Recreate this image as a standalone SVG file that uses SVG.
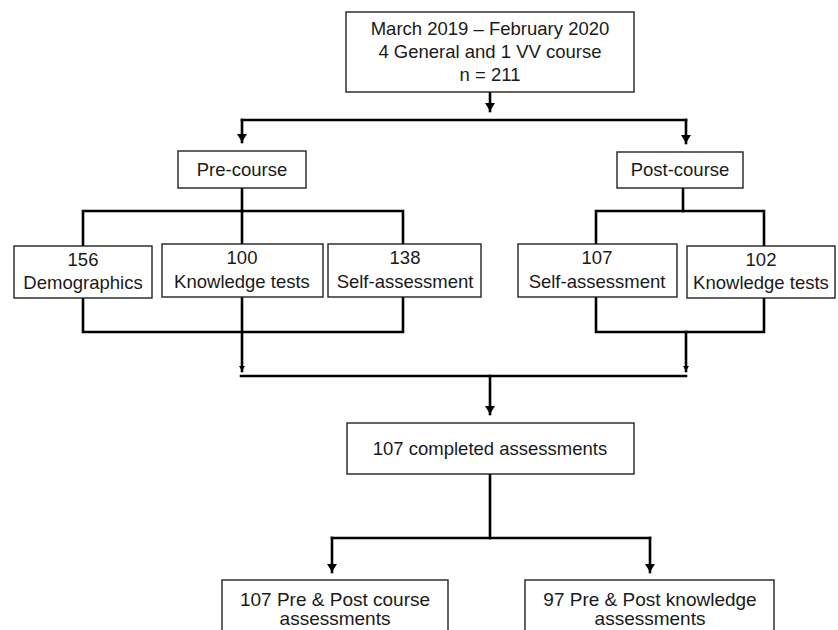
<svg xmlns="http://www.w3.org/2000/svg" width="838" height="630" viewBox="0 0 838 630">
<style>
.box{fill:#fff;stroke:#222;stroke-width:1.4}
.t{font-family:"Liberation Sans",Arial,sans-serif;font-size:18.5px;fill:#1a1a1a;text-anchor:middle}
.tb{font-family:"Liberation Sans",Arial,sans-serif;font-size:19px;fill:#1a1a1a;text-anchor:middle}
.c{fill:none;stroke:#000;stroke-width:2.6;stroke-linecap:square}
</style>
<defs>
<marker id="ah" markerUnits="userSpaceOnUse" markerWidth="12" markerHeight="12" viewBox="0 0 12 12" refX="11" refY="6" orient="auto">
<path d="M3,1 L11,6 L3,11 Z" fill="#000"/>
</marker>
<marker id="as" markerUnits="userSpaceOnUse" markerWidth="8" markerHeight="8" viewBox="0 0 8 8" refX="7" refY="4" orient="auto">
<path d="M2,1 L7,4 L2,7 Z" fill="#000"/>
</marker>
</defs>
<rect width="838" height="630" fill="#fff"/>
<g id="connectors">
<path class="c" d="M490,92 V111" marker-end="url(#ah)"/>
<path class="c" d="M242,120 H686"/>
<path class="c" d="M242,120 V142" marker-end="url(#ah)"/>
<path class="c" d="M686,120 V143" marker-end="url(#ah)"/>
<path class="c" d="M242,188 V211"/>
<path class="c" d="M83,246 V211 H403 V244"/>
<path class="c" d="M242,211 V244"/>
<path class="c" d="M683,188 V211"/>
<path class="c" d="M596,244 V211 H764 V246"/>
<path class="c" d="M83,298 V332 H403 V297"/>
<path class="c" d="M242,297 V371" marker-end="url(#as)"/>
<path class="c" d="M596,297 V332 H764 V298"/>
<path class="c" d="M686,332 V371" marker-end="url(#as)"/>
<path class="c" d="M241,376 H686"/>
<path class="c" d="M490,376 V414" marker-end="url(#ah)"/>
<path class="c" d="M490,474 V538"/>
<path class="c" d="M332,538 H650"/>
<path class="c" d="M332,538 V572" marker-end="url(#ah)"/>
<path class="c" d="M650,538 V572" marker-end="url(#ah)"/>
</g>
<g id="n-top">
<rect class="box" x="346" y="12" width="288" height="80"/>
<text class="t" x="490" y="35">March 2019 – February 2020</text>
<text class="t" x="490" y="58">4 General and 1 VV course</text>
<text class="t" x="490" y="81">n = 211</text>
</g>
<g id="n-pre">
<rect class="box" x="178" y="151" width="128" height="37"/>
<text class="t" x="242" y="176">Pre-course</text>
</g>
<g id="n-post">
<rect class="box" x="617" y="152" width="126" height="36"/>
<text class="t" x="680" y="176">Post-course</text>
</g>
<g id="n-demo">
<rect class="box" x="14" y="246" width="138" height="52"/>
<text class="t" x="83" y="266">156</text>
<text class="t" x="83" y="289">Demographics</text>
</g>
<g id="n-know1">
<rect class="box" x="162" y="244" width="161" height="53"/>
<text class="t" x="242" y="264">100</text>
<text class="t" x="242" y="288">Knowledge tests</text>
</g>
<g id="n-self1">
<rect class="box" x="328" y="244" width="153" height="53"/>
<text class="t" x="405" y="264">138</text>
<text class="t" x="405" y="288">Self-assessment</text>
</g>
<g id="n-self2">
<rect class="box" x="518" y="244" width="159" height="53"/>
<text class="t" x="597" y="264">107</text>
<text class="t" x="597" y="288">Self-assessment</text>
</g>
<g id="n-know2">
<rect class="box" x="687" y="246" width="148" height="52"/>
<text class="t" x="761" y="266">102</text>
<text class="t" x="761" y="289">Knowledge tests</text>
</g>
<g id="n-completed">
<rect class="box" x="347" y="423" width="287" height="51"/>
<text class="t" x="490" y="455">107 completed assessments</text>
</g>
<g id="n-prepost-course">
<rect class="box" x="222" y="580" width="226" height="60"/>
<text class="tb" x="335" y="606">107 Pre &amp; Post course</text>
<text class="tb" x="335" y="625">assessments</text>
</g>
<g id="n-prepost-know">
<rect class="box" x="525" y="580" width="249" height="60"/>
<text class="tb" x="650" y="606">97 Pre &amp; Post knowledge</text>
<text class="tb" x="650" y="625">assessments</text>
</g>
</svg>
